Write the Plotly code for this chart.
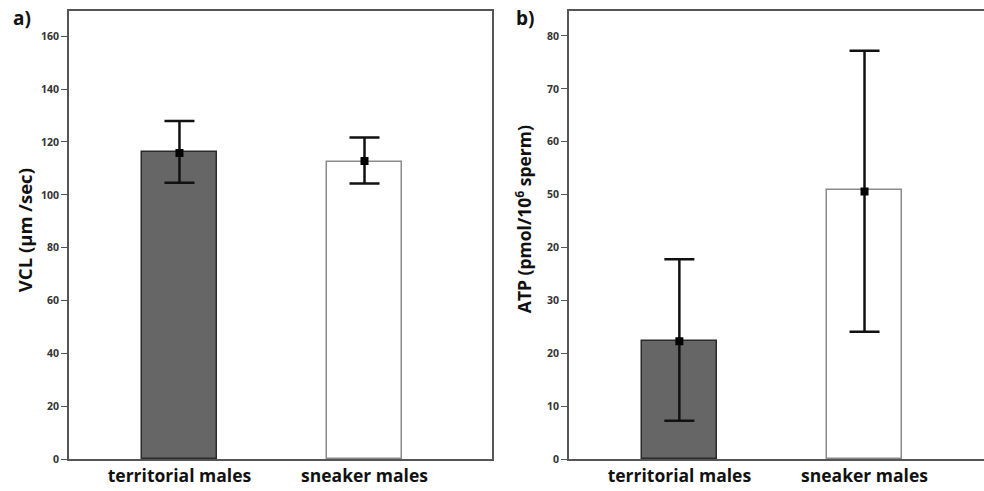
import plotly.graph_objects as go

# ---- data ----
categories = ["territorial males", "sneaker males"]

vcl_bar = [116.3, 112.5]
vcl_mean = [115.8, 112.8]
vcl_upper = [127.9, 121.7]
vcl_lower = [104.6, 104.3]

atp_bar = [22.3, 50.9]
atp_mean = [22.3, 50.6]
atp_upper = [37.8, 77.2]
atp_lower = [7.3, 24.1]

vcl_ticks = [0, 20, 40, 60, 80, 100, 120, 140, 160]
vcl_ticktext = ["0", "20", "40", "60", "80", "100", "120", "140", "160"]
atp_ticks = [0, 10, 20, 30, 40, 50, 60, 70, 80]
atp_ticktext = ["0", "10", "20", "30", "20", "50", "60", "70", "80"]

bar_fill = ["#666666", "#ffffff"]
bar_line = ["#2a2a2a", "#8a8a8a"]

FONT = "Open Sans"
W, H = 984, 491
SY = 1 / 0.985   # compensate for the vertical squeeze seen in the photograph


def px(x):
    return x / W


def py(y):
    return 1 - (y * SY) / H


fig = go.Figure()


def add_panel(bars, mean, upper, lower, xa, ya):
    fig.add_trace(go.Bar(
        x=categories, y=bars, width=0.405,
        marker=dict(color=bar_fill, line=dict(color=bar_line, width=1.5)),
        xaxis=xa, yaxis=ya, showlegend=False, hoverinfo="skip"))
    fig.add_trace(go.Scatter(
        x=categories, y=mean, mode="markers",
        marker=dict(symbol="square", size=8, color="#000000"),
        error_y=dict(type="data", symmetric=False,
                     array=[u - m for u, m in zip(upper, mean)],
                     arrayminus=[m - l for m, l in zip(mean, lower)],
                     color="#111111", thickness=2.5, width=15),
        xaxis=xa, yaxis=ya, showlegend=False))


add_panel(vcl_bar, vcl_mean, vcl_upper, vcl_lower, "x", "y")
add_panel(atp_bar, atp_mean, atp_upper, atp_lower, "x2", "y2")

ydom = [py(459), py(11)]
axcol = "#555555"
tickfont_y = dict(family=FONT, size=10.5, color="#333333", weight="bold")
tickfont_x = dict(family=FONT, size=17.5, color="#111111", weight="bold")

fig.update_layout(
    width=W, height=H,
    margin=dict(l=0, r=0, t=0, b=0),
    paper_bgcolor="white", plot_bgcolor="white",
    bargap=0,
    xaxis=dict(domain=[px(69), px(492)], range=[-0.597, 1.689],
               showline=True, linecolor=axcol, linewidth=2, mirror=True,
               showgrid=False, ticks="", tickfont=tickfont_x, anchor="y"),
    yaxis=dict(domain=ydom, range=[0, 169.5], tickvals=vcl_ticks, ticktext=vcl_ticktext,
               showline=True, linecolor=axcol, linewidth=2, mirror=True,
               showgrid=False, zeroline=False, ticks="outside", ticklen=6,
               tickcolor=axcol, tickwidth=1, tickfont=tickfont_y, anchor="x"),
    xaxis2=dict(domain=[px(569), 1.0], range=[-0.596, (984 - 679.3) / 185.2],
                showline=True, linecolor=axcol, linewidth=2, mirror=True,
                showgrid=False, ticks="", tickfont=tickfont_x, anchor="y2"),
    yaxis2=dict(domain=ydom, range=[0, 84.7], tickvals=atp_ticks, ticktext=atp_ticktext,
                showline=True, linecolor=axcol, linewidth=2, mirror=False,
                showgrid=False, zeroline=False, ticks="outside", ticklen=6,
                tickcolor=axcol, tickwidth=1, tickfont=tickfont_y, anchor="x2"),
    annotations=[
        dict(text="<b>a)</b>", x=px(11), y=py(18), xref="paper", yref="paper",
             xanchor="left", yanchor="middle", showarrow=False,
             font=dict(family=FONT, size=19, color="#111111")),
        dict(text="<b>b)</b>", x=px(514), y=py(18), xref="paper", yref="paper",
             xanchor="left", yanchor="middle", showarrow=False,
             font=dict(family=FONT, size=19, color="#111111")),
        dict(text="<b>VCL (μm /sec)</b>", x=px(24), y=py(230), xref="paper", yref="paper",
             xanchor="center", yanchor="middle", textangle=-90, showarrow=False,
             font=dict(family=FONT, size=18.5, color="#111111")),
        dict(text="<b>ATP (pmol/10<sup>6</sup> sperm)</b>", x=px(523), y=py(219),
             xref="paper", yref="paper",
             xanchor="center", yanchor="middle", textangle=-90, showarrow=False,
             font=dict(family=FONT, size=17.5, color="#111111")),
    ],
)

fig.write_html(
    "out.html",
    config={"displayModeBar": False},
    post_script=(
        "document.documentElement.style.margin='0';"
        "document.documentElement.style.overflow='hidden';"
        "document.body.style.margin='0';"
        "document.body.style.padding='0';"
        "document.body.style.overflow='hidden';"
    ),
)
